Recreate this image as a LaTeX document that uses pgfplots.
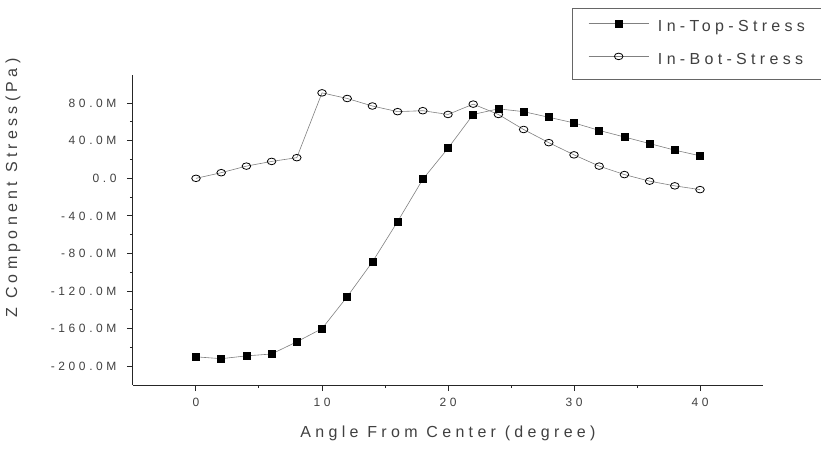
\documentclass[border=0pt]{standalone}
\usepackage{pgfplots}
\pgfplotsset{compat=1.18}
\usepackage{fontspec}
\setmainfont{Liberation Sans}
\newfontfamily\labfam[LetterSpace=27]{Liberation Sans}
\newfontfamily\tickfam[LetterSpace=30]{Liberation Sans}
\newcommand\labfont{\labfam\fontsize{16bp}{19bp}\selectfont}
\newcommand\tickfont{\tickfam\fontsize{12bp}{14bp}\selectfont}
\definecolor{txt}{gray}{0.25}
\begin{document}
\begin{tikzpicture}
\begin{axis}[
  at={(0bp,0bp)}, anchor=south west,
  scale only axis, width=630bp, height=310bp,
  xmin=-5, xmax=45, ymin=-220, ymax=110,
  axis lines*=left,
  axis line style={black!85, line width=1bp},
  xtick={0,10,20,30,40}, xticklabels={0,10,20,30,40},
  ytick={-200,-160,-120,-80,-40,0,40,80},
  yticklabels={-200.0M,-160.0M,-120.0M,-80.0M,-40.0M,0.0,40.0M,80.0M},
  minor x tick num=1, minor y tick num=1,
  tick align=outside,
  major tick length=6bp, minor tick length=3bp,
  tick style={black!85, line width=1bp},
  tick label style={font=\tickfont, text=txt},
  yticklabel style={xshift=-7bp},
  xticklabel style={yshift=-4bp},
  xlabel={Angle From Center (degree)},
  ylabel={Z Component Stress(Pa)},
  label style={font=\labfont, text=txt},
  xlabel style={at={(axis description cs:0.5,-0.1548)}, anchor=center},
  ylabel style={at={(axis description cs:-0.1905,0.6355)}, anchor=center},
  legend image code/.code={
    \draw[mark repeat=2,mark phase=2,#1] plot coordinates {(0bp,4bp) (30bp,4bp) (60bp,4bp)};},
  legend cell align=left,
  legend style={at={(rel axis cs:0.6968,1.2161)}, anchor=north west,
    draw=black!60, line width=0.8bp, fill=white,
    inner xsep=16bp, inner ysep=11bp, row sep=17bp, column sep=9bp,
    font=\labfont, text=txt,
    nodes={inner sep=0bp, text height=12bp, text depth=4bp}},
]
\addplot[gray, line width=0.6bp, mark=square*, mark size=3.5bp,
  mark options={solid, fill=black, draw=black}] coordinates {
  (0,-190) (2,-192) (4,-189) (6,-187) (8,-174) (10,-160) (12,-126) (14,-89)
  (16,-46) (18,-1) (20,32) (22,68) (24,74) (26,71) (28,65) (30,59) (32,51)
  (34,44) (36,37) (38,30) (40,24)};
\addlegendentry{In-Top-Stress}
\addplot[gray, line width=0.6bp, mark=o, mark size=3.3bp,
  mark options={solid, fill=white, draw=black, line width=0.8bp, xscale=1.3}] coordinates {
  (0,0) (2,6) (4,13) (6,18) (8,22) (10,91) (12,85) (14,77) (16,71) (18,72)
  (20,68) (22,79) (24,68) (26,52) (28,38) (30,25) (32,13) (34,4) (36,-3)
  (38,-8) (40,-12)};
\addlegendentry{In-Bot-Stress}
\end{axis}
\pgfresetboundingbox
\path[use as bounding box] (-133bp,-64bp) rectangle (688bp,385bp);
\end{tikzpicture}
\end{document}
